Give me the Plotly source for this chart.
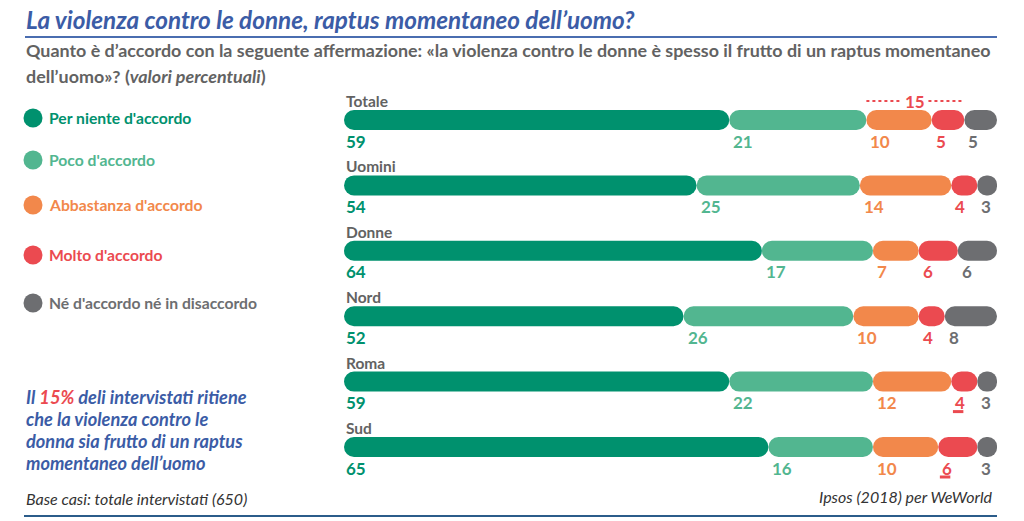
import plotly.graph_objects as go

# ---------------- data ----------------
groups = ["Totale", "Uomini", "Donne", "Nord", "Roma", "Sud"]
categories = ["Per niente d'accordo", "Poco d'accordo", "Abbastanza d'accordo",
              "Molto d'accordo", "Né d'accordo né in disaccordo"]
per_niente = [59, 54, 64, 52, 59, 65]
poco = [21, 25, 17, 26, 22, 16]
abbastanza = [10, 14, 7, 10, 12, 10]
molto = [5, 4, 6, 4, 4, 6]
ne_ne = [5, 3, 6, 8, 3, 3]
series = [per_niente, poco, abbastanza, molto, ne_ne]
underlined_molto = ["Roma", "Sud"]

# ---------------- style ----------------
colors = ["#00916E", "#52B690", "#F2884B", "#EB4A50", "#6D6E71"]
W, H = 1024, 521
FONT = "Lato"
TITLE_BLUE = "#3B5CA6"
GRAY = "#626262"

def px(x):
    return x / W

def py(y):
    return 1 - y / H

row_top_px, row_step_px = 120, 65.4
bar_thick = 20 / row_step_px
y_range = [(H - row_top_px) / row_step_px, -row_top_px / row_step_px]
ypos = list(range(len(groups)))

fig = go.Figure()

for k, (name, vals) in enumerate(zip(categories, series)):
    starts = [sum(s[i] for s in series[:k]) for i in range(len(groups))]
    fig.add_trace(go.Bar(
        y=ypos, x=vals, base=starts,
        orientation="h", width=bar_thick,
        marker=dict(color=colors[k], line_width=0, cornerradius=10),
        name=name, showlegend=False, hoverinfo="skip"))
    # value labels
    for i, (st, v) in enumerate(zip(starts, vals)):
        fig.add_annotation(x=st, y=i + 21 / row_step_px, xref="x", yref="y",
                           text=str(v), showarrow=False, xanchor="left", yanchor="middle",
                           xshift=0 if st == 0 else 2,
                           font=dict(family=FONT, size=17, weight="bold", color=colors[k]))
        if k == 3 and groups[i] in underlined_molto:
            fig.add_shape(type="line", xref="x", yref="y",
                          x0=st + 0.25, x1=st + 1.85,
                          y0=i + 30 / row_step_px, y1=i + 30 / row_step_px,
                          line=dict(color=colors[k], width=3))

# group labels
for i, g in enumerate(groups):
    fig.add_annotation(x=0, y=i - 19 / row_step_px, xref="x", yref="y", text=g,
                       showarrow=False, xanchor="left", yanchor="middle", xshift=0,
                       font=dict(family=FONT, size=15.5, weight="bold", color=GRAY))

# bracket "15" over abbastanza + molto (Totale)
b0 = per_niente[0] + poco[0]
b1 = b0 + abbastanza[0] + molto[0]
bm = (b0 + b1) / 2
yb = -19 / row_step_px
for xa, xb in [(b0, bm - 2.0), (bm + 2.0, b1 - 0.3)]:
    fig.add_shape(type="line", xref="x", yref="y", x0=xa, x1=xb, y0=yb, y1=yb,
                  line=dict(color=colors[3], width=2, dash="dot"))
fig.add_annotation(x=bm, y=yb, xref="x", yref="y", text=str(abbastanza[0] + molto[0]),
                   showarrow=False, xanchor="center", yanchor="middle",
                   font=dict(family=FONT, size=17, weight="bold", color=colors[3]))

# legend
legend_y = [118, 160, 205, 255, 303]
for k, name in enumerate(categories):
    fig.add_shape(type="circle", xref="paper", yref="paper",
                  xsizemode="pixel", ysizemode="pixel",
                  xanchor=px(33), yanchor=py(legend_y[k]),
                  x0=-9.5, x1=9.5, y0=-9.5, y1=9.5,
                  fillcolor=colors[k], line_width=0)
    fig.add_annotation(x=px(47), y=py(legend_y[k]), xref="paper", yref="paper",
                       text=name, showarrow=False, xanchor="left", yanchor="middle",
                       font=dict(family=FONT, size=15.7, weight="bold", color=colors[k]))

# title & subtitle
fig.add_annotation(x=px(24), y=py(19), xref="paper", yref="paper",
                   text="La violenza contro le donne, raptus momentaneo dell’uomo?",
                   showarrow=False, xanchor="left", yanchor="middle",
                   font=dict(family=FONT, size=24.3, weight="bold", style="italic", color=TITLE_BLUE))
fig.add_shape(type="line", xref="paper", yref="paper", x0=px(25), x1=px(997),
              y0=py(37), y1=py(37), line=dict(color="#4A6DB0", width=2))
fig.add_annotation(x=px(24), y=py(50), xref="paper", yref="paper",
                   text="Quanto è d’accordo con la seguente affermazione: «la violenza contro le donne è spesso il frutto di un raptus momentaneo",
                   showarrow=False, xanchor="left", yanchor="middle",
                   font=dict(family=FONT, size=17.9, weight="bold", color=GRAY))
fig.add_annotation(x=px(24), y=py(76), xref="paper", yref="paper",
                   text="dell’uomo»? (<i>valori percentuali</i>)",
                   showarrow=False, xanchor="left", yanchor="middle",
                   font=dict(family=FONT, size=17.9, weight="bold", color=GRAY))

# side note
note_lines = [
    "Il <span style='color:#EB4A50'>15%</span> deli intervistati ritiene",
    "che la violenza contro le",
    "donna sia frutto di un raptus",
    "momentaneo dell’uomo",
]
for j, line in enumerate(note_lines):
    fig.add_annotation(x=px(24), y=py(397 + 22 * j), xref="paper", yref="paper",
                       text=line, showarrow=False, xanchor="left", yanchor="middle",
                       font=dict(family=FONT, size=18.2, weight="bold", style="italic", color=TITLE_BLUE))

# footer
fig.add_annotation(x=px(24), y=py(498), xref="paper", yref="paper",
                   text="Base casi: totale intervistati (650)", showarrow=False,
                   xanchor="left", yanchor="middle",
                   font=dict(family=FONT, size=16, style="italic", color="#333333"))
fig.add_annotation(x=px(995), y=py(496), xref="paper", yref="paper",
                   text="Ipsos (2018) per WeWorld", showarrow=False,
                   xanchor="right", yanchor="middle",
                   font=dict(family=FONT, size=16, style="italic", color="#333333"))
fig.add_shape(type="line", xref="paper", yref="paper", x0=px(24), x1=px(997),
              y0=py(516), y1=py(516), line=dict(color="#2B5C8A", width=2))

fig.update_layout(
    width=W, height=H, barmode="overlay",
    margin=dict(l=0, r=0, t=0, b=0),
    paper_bgcolor="white", plot_bgcolor="white",
    xaxis=dict(domain=[px(344), px(997)], range=[0, 100], visible=False, fixedrange=True),
    yaxis=dict(domain=[0, 1], range=y_range, visible=False, fixedrange=True),
    showlegend=False,
)

fig.write_html("out.html", config={"displayModeBar": False},
               post_script="document.body.style.margin='0px';document.body.style.overflow='hidden';")
